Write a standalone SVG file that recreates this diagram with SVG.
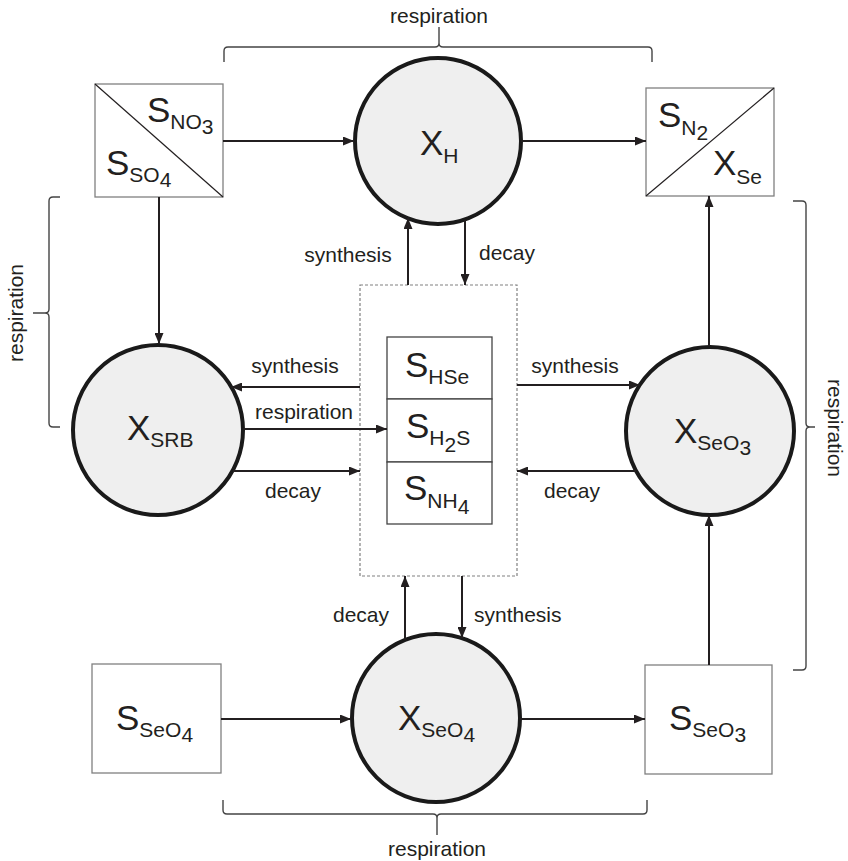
<svg xmlns="http://www.w3.org/2000/svg" width="848" height="861" viewBox="0 0 848 861">
<defs>
<marker id="ah" markerUnits="userSpaceOnUse" markerWidth="11" markerHeight="9" refX="11" refY="4.5" orient="auto">
<path d="M0,0 L11,4.5 L0,9 z" fill="#231f20"/>
</marker>
<style>
text{font-family:"Liberation Sans",Arial,Helvetica,sans-serif;fill:#231f20}
.main{font-size:35px}
.sub{font-size:21px}
.lbl{font-size:21px}
.circ{fill:#efefef;stroke:#1a1a1a;stroke-width:4}
.box{fill:#fff;stroke:#808080;stroke-width:1.3}
.ibox{fill:#fff;stroke:#444;stroke-width:1.3}
.dash{fill:#fff;stroke:#808080;stroke-width:1.2;stroke-dasharray:3 2}
.diag{stroke:#231f20;stroke-width:1.2}
.arr{stroke:#231f20;stroke-width:2;fill:none;marker-end:url(#ah)}
.brace{stroke:#444;stroke-width:1.4;fill:none}
</style>
</defs>

<g id="pool">
<rect class="dash" x="360" y="285" width="157" height="291"/>
</g>

<g id="S_NO3_S_SO4">
<rect class="box" x="95" y="84" width="128" height="113"/>
<line class="diag" x1="95" y1="84" x2="223" y2="197"/>
<text class="main" x="147" y="122">S<tspan class="sub" dy="7">NO</tspan><tspan class="sub" dy="5">3</tspan></text>
<text class="main" x="106" y="175">S<tspan class="sub" dy="7">SO</tspan><tspan class="sub" dy="5">4</tspan></text>
</g>

<g id="S_N2_X_Se">
<rect class="box" x="646" y="88" width="128" height="108"/>
<line class="diag" x1="646" y1="196" x2="774" y2="88"/>
<text class="main" x="658" y="127">S<tspan class="sub" dy="8">N</tspan><tspan class="sub" dy="5">2</tspan></text>
<text class="main" x="713" y="175">X<tspan class="sub" dy="9">Se</tspan></text>
</g>

<g id="X_H">
<circle class="circ" cx="438" cy="141" r="83"/>
<text class="main" x="420" y="155">X<tspan class="sub" dy="8">H</tspan></text>
</g>

<g id="X_SRB">
<circle class="circ" cx="158" cy="430" r="85"/>
<text class="main" x="127" y="440">X<tspan class="sub" dy="7">SRB</tspan></text>
</g>

<g id="X_SeO3">
<circle class="circ" cx="710" cy="431" r="84"/>
<text class="main" x="674" y="443">X<tspan class="sub" dy="7">SeO</tspan><tspan class="sub" dy="5">3</tspan></text>
</g>

<g id="X_SeO4">
<circle class="circ" cx="436" cy="718" r="84"/>
<text class="main" x="398" y="730">X<tspan class="sub" dy="7">SeO</tspan><tspan class="sub" dy="5">4</tspan></text>
</g>

<g id="S_SeO4">
<rect class="box" x="92" y="664" width="129" height="109"/>
<text class="main" x="116" y="730">S<tspan class="sub" dy="7">SeO</tspan><tspan class="sub" dy="5">4</tspan></text>
</g>

<g id="S_SeO3">
<rect class="box" x="645" y="665" width="127" height="109"/>
<text class="main" x="669" y="730">S<tspan class="sub" dy="7">SeO</tspan><tspan class="sub" dy="5">3</tspan></text>
</g>

<g id="S_HSe">
<rect class="ibox" x="387" y="337" width="105" height="62"/>
<text class="main" x="405" y="377">S<tspan class="sub" dy="7">HSe</tspan></text>
</g>
<g id="S_H2S">
<rect class="ibox" x="387" y="399" width="105" height="63"/>
<text class="main" x="406" y="438">S<tspan class="sub" dy="7">H</tspan><tspan class="sub" dy="7">2</tspan><tspan class="sub" dy="-7">S</tspan></text>
</g>
<g id="S_NH4">
<rect class="ibox" x="387" y="462" width="105" height="62"/>
<text class="main" x="404" y="500">S<tspan class="sub" dy="8">NH</tspan><tspan class="sub" dy="6">4</tspan></text>
</g>

<g id="connectors">
<line class="arr" x1="223" y1="141" x2="354" y2="141"/>
<line class="arr" x1="521" y1="141" x2="646" y2="141"/>
<line class="arr" x1="159" y1="197" x2="159" y2="344"/>
<line class="arr" x1="709" y1="346" x2="709" y2="196"/>
<line class="arr" x1="709" y1="665" x2="709" y2="515"/>
<line class="arr" x1="221" y1="719" x2="351" y2="719"/>
<line class="arr" x1="520" y1="719" x2="645" y2="719"/>
<line class="arr" x1="408" y1="285" x2="408" y2="218"/>
<line class="arr" x1="465" y1="220" x2="465" y2="285"/>
<line class="arr" x1="360" y1="387" x2="231" y2="387"/>
<line class="arr" x1="243" y1="429" x2="387" y2="429"/>
<line class="arr" x1="233" y1="471" x2="360" y2="471"/>
<line class="arr" x1="517" y1="385" x2="640" y2="385"/>
<line class="arr" x1="636" y1="471" x2="517" y2="471"/>
<line class="arr" x1="405" y1="640" x2="405" y2="576"/>
<line class="arr" x1="462" y1="576" x2="462" y2="638"/>
</g>

<g id="braces">
<path class="brace" d="M224,62 L224,51 Q224,47 228,47 L435,47 Q439,47 439,43 L439,27 M439,43 Q439,47 443,47 L648,47 Q652,47 652,51 L652,62"/>
<path class="brace" d="M223,800 L223,810 Q223,814 227,814 L433,814 Q437,814 437,818 L437,835 M437,818 Q437,814 441,814 L643,814 Q647,814 647,810 L647,800"/>
<path class="brace" d="M60,197 L53,197 Q49,197 49,201 L49,309 Q49,313 45,313 L33,313 M45,313 Q49,313 49,317 L49,423 Q49,427 53,427 L60,427"/>
<path class="brace" d="M793,201 L802,201 Q806,201 806,205 L806,423 Q806,427 810,427 L815,427 M810,427 Q806,427 806,431 L806,666 Q806,670 802,670 L793,670"/>
</g>

<g id="labels">
<text class="lbl" x="439" y="23" text-anchor="middle">respiration</text>
<text class="lbl" x="437" y="856" text-anchor="middle">respiration</text>
<text class="lbl" transform="translate(23,313) rotate(-90)" text-anchor="middle">respiration</text>
<text class="lbl" transform="translate(828,428) rotate(90)" text-anchor="middle">respiration</text>
<text class="lbl" x="348" y="262" text-anchor="middle">synthesis</text>
<text class="lbl" x="507" y="260" text-anchor="middle">decay</text>
<text class="lbl" x="295" y="373" text-anchor="middle">synthesis</text>
<text class="lbl" x="304" y="419" text-anchor="middle">respiration</text>
<text class="lbl" x="293" y="498" text-anchor="middle">decay</text>
<text class="lbl" x="575" y="373" text-anchor="middle">synthesis</text>
<text class="lbl" x="572" y="498" text-anchor="middle">decay</text>
<text class="lbl" x="361" y="622" text-anchor="middle">decay</text>
<text class="lbl" x="474" y="622">synthesis</text>
</g>
</svg>
